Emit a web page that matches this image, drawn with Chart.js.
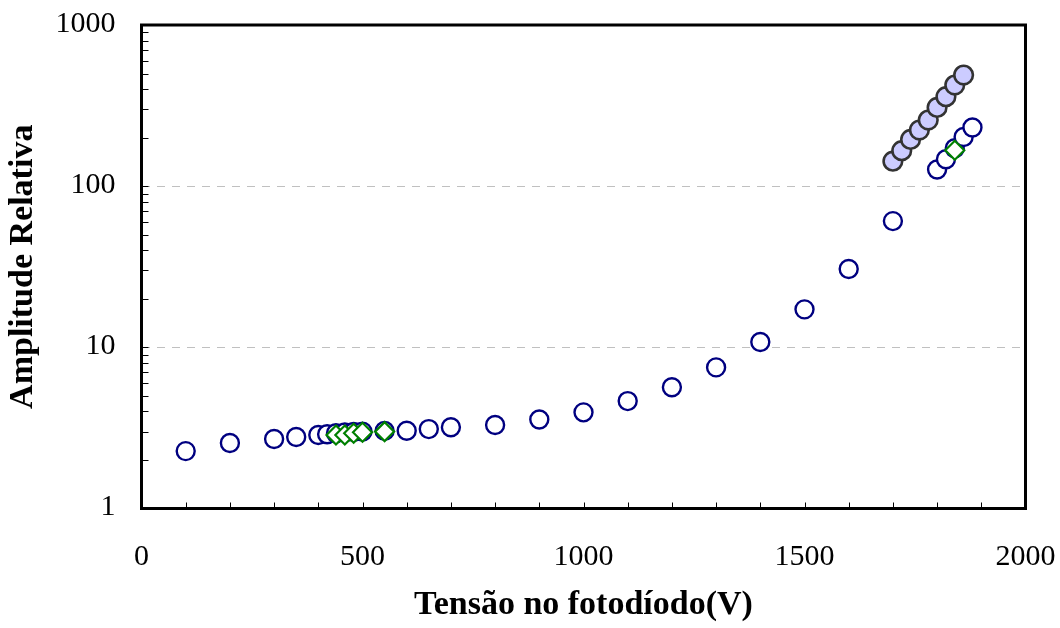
<!DOCTYPE html>
<html>
<head>
<meta charset="utf-8">
<script src="https://cdn.jsdelivr.net/npm/chart.js@4/dist/chart.umd.min.js"></script>
<style>
  html, body { margin: 0; padding: 0; background: #fff; }
  #wrap { width: 1060px; height: 628px; }
</style>
</head>
<body>
<div id="wrap"><canvas id="c" width="1060" height="628"></canvas></div>
<script>
// ---- data ----
const voltsA = [100, 200, 300, 350, 400, 420, 440, 460, 480, 500, 550, 600, 650, 700, 800, 900, 1000, 1100, 1200, 1300, 1400, 1500, 1600, 1700, 1800, 1820, 1840, 1860, 1880];
const ampA   = [2.27, 2.55, 2.70, 2.78, 2.86, 2.89, 2.93, 2.96, 2.98, 3.00, 3.03, 3.04, 3.11, 3.19, 3.30, 3.57, 3.95, 4.64, 5.65, 7.51, 10.8, 17.2, 30.6, 60.7, 127, 147, 172, 202, 231];

const voltsB = [1700, 1720, 1740, 1760, 1780, 1800, 1820, 1840, 1860];
const ampB   = [143, 166, 195, 223, 257, 308, 359, 424, 489];

const voltsC = [440, 460, 480, 500, 550, 1840];
const ampC   = [2.86, 2.86, 2.93, 2.97, 3.00, 167];

const xTickLabels = [0, 500, 1000, 1500, 2000];
const yTickLabels = [1, 10, 100, 1000];
const yGridValues = [10, 100];
const xMinorStep = 100;
const yMinorMult = [2, 3, 4, 5, 6, 7, 8, 9, 10];

const pts = (xs, ys) => xs.map((v, i) => ({ x: v, y: ys[i] }));

const framePlugin = {
  id: 'frameTicks',
  beforeDatasetsDraw(chart) {
    const { ctx, chartArea: a, scales: { x, y } } = chart;
    ctx.save();
    ctx.strokeStyle = '#000';
    ctx.lineWidth = 1;
    for (let d = 1; d < 1000; d *= 10) {
      yMinorMult.forEach(m => {
        const p = Math.round(y.getPixelForValue(d * m)) + 0.5;
        ctx.beginPath();
        ctx.moveTo(a.left, p);
        ctx.lineTo(a.left + 7, p);
        ctx.stroke();
      });
    }
    for (let v = xMinorStep; v < 2000; v += xMinorStep) {
      const p = Math.round(x.getPixelForValue(v)) + 0.5;
      ctx.beginPath();
      ctx.moveTo(p, a.bottom);
      ctx.lineTo(p, a.bottom - 6);
      ctx.stroke();
    }
    ctx.lineWidth = 3;
    ctx.strokeRect(a.left, a.top, a.right - a.left, a.bottom - a.top);
    ctx.restore();
  }
};

const zeroPad = s => { s.paddingTop = 0; s.paddingBottom = 0; s.paddingLeft = 0; s.paddingRight = 0; };

const tickFont = { family: "'Liberation Serif', 'DejaVu Serif', serif", size: 30 };
const titleFont = { family: "'Liberation Serif', 'DejaVu Serif', serif", size: 34, weight: 'bold' };

new Chart(document.getElementById('c'), {
  type: 'scatter',
  data: {
    datasets: [
      {
        label: 'Série 1',
        data: pts(voltsA, ampA),
        order: 3,
        pointStyle: 'circle',
        pointRadius: 9,
        pointBorderWidth: 2.4,
        borderColor: '#000080',
        backgroundColor: '#ffffff',
        pointHoverRadius: 9
      },
      {
        label: 'Série 2',
        data: pts(voltsB, ampB),
        order: 2,
        pointStyle: 'circle',
        pointRadius: 9.3,
        pointBorderWidth: 2.6,
        borderColor: '#333333',
        backgroundColor: '#ccccff',
        pointHoverRadius: 9.3
      },
      {
        label: 'Série 3',
        data: pts(voltsC, ampC),
        order: 1,
        pointStyle: 'rectRot',
        pointRadius: 9.5,
        pointBorderWidth: 2.2,
        borderColor: '#008000',
        backgroundColor: '#ffffff',
        pointHoverRadius: 9.5
      }
    ]
  },
  options: {
    responsive: false,
    devicePixelRatio: 1,
    animation: false,
    events: [],
    layout: { padding: { left: 0, top: 25, right: 34.5, bottom: 0 } },
    plugins: { legend: { display: false }, tooltip: { enabled: false } },
    scales: {
      x: {
        type: 'linear',
        min: 0, max: 2000,
        afterBuildTicks: s => { s.ticks = xTickLabels.map(v => ({ value: v })); },
        afterFit: s => { s.height = 119.5; zeroPad(s); },
        grid: { display: false, drawTicks: false },
        border: { display: false },
        ticks: { font: tickFont, color: '#000', padding: 31, autoSkip: false, maxRotation: 0, callback: v => String(v) },
        title: { display: true, text: 'Tensão no fotodíodo(V)', font: titleFont, color: '#000', padding: { top: 0, bottom: 2 } }
      },
      y: {
        type: 'logarithmic',
        min: 1, max: 1000,
        afterBuildTicks: s => { s.ticks = yTickLabels.map(v => ({ value: v })); },
        afterFit: s => { s.width = 141.5; zeroPad(s); },
        grid: {
          drawTicks: false,
          lineWidth: 1,
          color: c => (c.tick && yGridValues.includes(c.tick.value)) ? '#c0c0c0' : 'rgba(0,0,0,0)'
        },
        border: { display: false, dash: [8, 7] },
        ticks: { font: tickFont, color: '#000', padding: 26, labelOffset: -1, autoSkip: false, callback: v => String(v) },
        title: { display: true, text: 'Amplitude Relativa', font: titleFont, color: '#000', padding: { top: 3, bottom: 0 } }
      }
    }
  },
  plugins: [framePlugin]
});
</script>
</body>
</html>
